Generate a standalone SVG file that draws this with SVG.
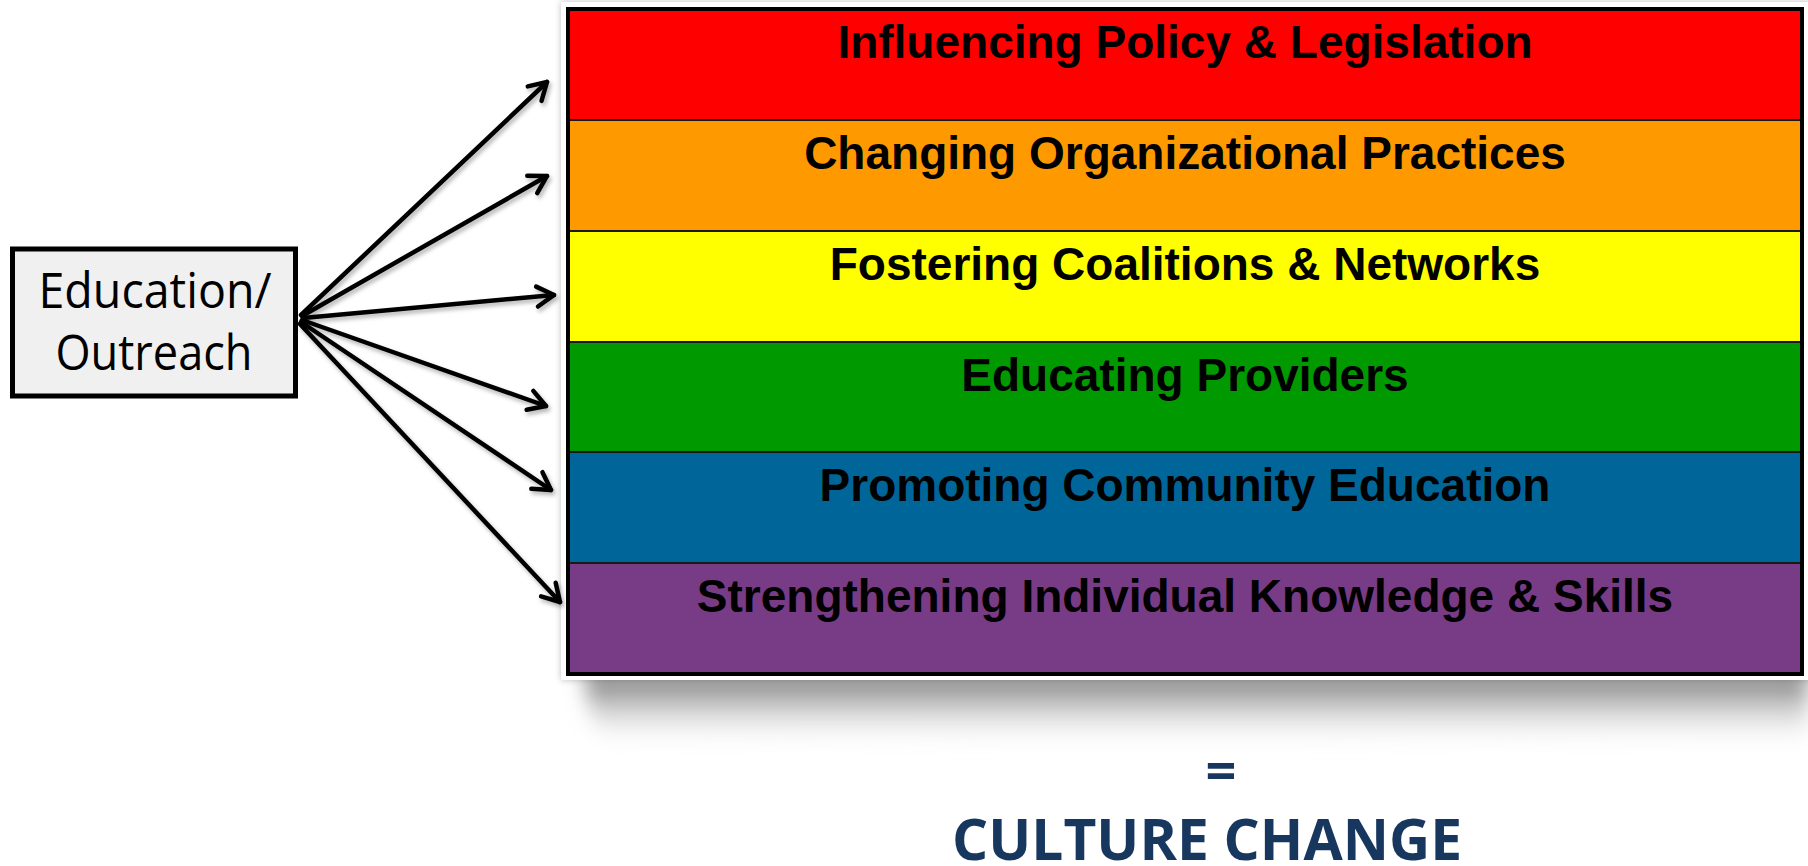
<svg xmlns="http://www.w3.org/2000/svg" width="1808" height="866" viewBox="0 0 1808 866">
  <defs>
    <style>
      .band-label { font-family: "Liberation Sans", Arial, sans-serif; font-weight: bold; font-size: 46px; fill: #000; text-anchor: middle; }
      .box-label { font-family: "Open Sans", "Noto Sans", sans-serif; font-size: 49px; fill: #000; text-anchor: middle; }
      .result { font-family: "Open Sans", "Noto Sans", sans-serif; font-weight: bold; fill: #17375e; text-anchor: middle; }
      .conn { fill: none; stroke: #000; stroke-width: 4.5; stroke-linecap: round; marker-end: url(#ah); }
      .divider { stroke: #1a1a1a; stroke-width: 2; }
    </style>
    <marker id="ah" viewBox="0 0 28 28" markerWidth="28" markerHeight="28" refX="23" refY="14" orient="auto" markerUnits="userSpaceOnUse">
      <path d="M6,4 L23,14 L6,24" fill="none" stroke="#000" stroke-width="4.5" stroke-linecap="round" stroke-linejoin="round"/>
    </marker>
    <filter id="arrowShadow" x="-10%" y="-10%" width="120%" height="120%">
      <feDropShadow dx="2" dy="3" stdDeviation="2" flood-color="#000" flood-opacity="0.3"/>
    </filter>
    <filter id="frameShadow" x="-5%" y="-5%" width="110%" height="110%">
      <feDropShadow dx="0" dy="0" stdDeviation="3" flood-color="#000" flood-opacity="0.25"/>
    </filter>
    <filter id="blur10" x="-10%" y="-60%" width="120%" height="220%">
      <feGaussianBlur stdDeviation="10"/>
    </filter>
    <linearGradient id="shadowGrad" x1="0" y1="0" x2="0" y2="1">
      <stop offset="0" stop-color="#6e6e6e" stop-opacity="1"/>
      <stop offset="0.45" stop-color="#a8a8a8" stop-opacity="0.6"/>
      <stop offset="1" stop-color="#ffffff" stop-opacity="0"/>
    </linearGradient>
  </defs>

  <rect width="1808" height="866" fill="#ffffff"/>

  <!-- picture frame shadow -->
  <g id="frame-shadow">
    <path d="M585,672 L1808,672 L1808,750 Q1200,738 610,748 Q585,720 585,672 Z" fill="url(#shadowGrad)" filter="url(#blur10)"/>
    <rect x="561" y="2" width="1250" height="678" fill="#ffffff" filter="url(#frameShadow)"/>
  </g>

  <!-- rainbow stack -->
  <g id="stack">
    <g id="band-policy">
      <rect x="568" y="9" width="1234" height="111" fill="#ff0000"/>
      <text class="band-label" x="1185" y="58">Influencing Policy &amp; Legislation</text>
    </g>
    <g id="band-org">
      <rect x="568" y="120" width="1234" height="111" fill="#ff9900"/>
      <text class="band-label" x="1185" y="169">Changing Organizational Practices</text>
    </g>
    <g id="band-coalitions">
      <rect x="568" y="231" width="1234" height="111" fill="#ffff00"/>
      <text class="band-label" x="1185" y="280">Fostering Coalitions &amp; Networks</text>
    </g>
    <g id="band-providers">
      <rect x="568" y="342" width="1234" height="110" fill="#009900"/>
      <text class="band-label" x="1185" y="391">Educating Providers</text>
    </g>
    <g id="band-community">
      <rect x="568" y="452" width="1234" height="111" fill="#006699"/>
      <text class="band-label" x="1185" y="501">Promoting Community Education</text>
    </g>
    <g id="band-individual">
      <rect x="568" y="563" width="1234" height="111" fill="#783b86"/>
      <text class="band-label" x="1185" y="612">Strengthening Individual Knowledge &amp; Skills</text>
    </g>
    <line class="divider" x1="568" y1="120" x2="1802" y2="120"/>
    <line class="divider" x1="568" y1="231" x2="1802" y2="231"/>
    <line class="divider" x1="568" y1="342" x2="1802" y2="342"/>
    <line class="divider" x1="568" y1="452" x2="1802" y2="452"/>
    <line class="divider" x1="568" y1="563" x2="1802" y2="563"/>
    <rect x="568" y="9" width="1234" height="665" fill="none" stroke="#000" stroke-width="4"/>
  </g>

  <!-- source node -->
  <g id="education-outreach">
    <rect x="12.5" y="249" width="283" height="147" fill="#f0f0f0" stroke="#000" stroke-width="5"/>
    <text class="box-label" x="155" y="308" textLength="233" lengthAdjust="spacingAndGlyphs">Education/</text>
    <text class="box-label" x="154" y="370" textLength="197" lengthAdjust="spacingAndGlyphs">Outreach</text>
  </g>

  <!-- connectors -->
  <g id="connectors" filter="url(#arrowShadow)">
    <path class="conn" d="M301,315 L547,82"/>
    <path class="conn" d="M302,316 L547,176"/>
    <path class="conn" d="M303,318 L554,295"/>
    <path class="conn" d="M302,320 L546,406"/>
    <path class="conn" d="M301,322 L551,490"/>
    <path class="conn" d="M300,324 L560,602"/>
  </g>

  <!-- result -->
  <g id="result">
    <text class="result" x="1221" y="790" font-size="54">=</text>
    <text class="result" x="1207" y="860" font-size="57" textLength="510" lengthAdjust="spacingAndGlyphs">CULTURE CHANGE</text>
  </g>
</svg>
